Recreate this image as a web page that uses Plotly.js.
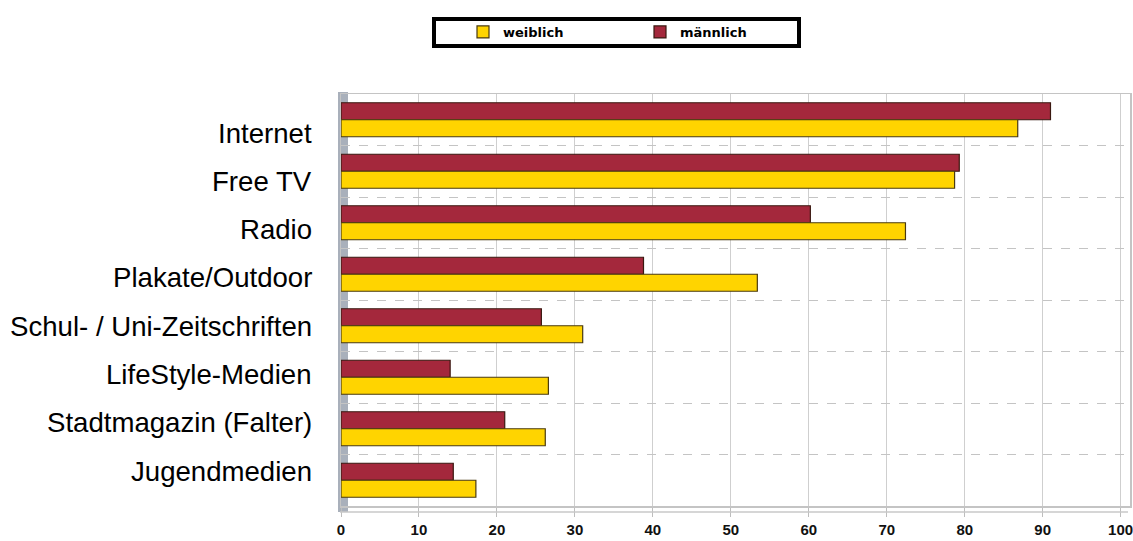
<!DOCTYPE html>
<html>
<head>
<meta charset="utf-8">
<script src="https://cdn.plot.ly/plotly-3.0.1.min.js"></script>
<style>
html,body{margin:0;padding:0;background:#fff;}
#chart{width:1133px;height:541px;}
</style>
</head>
<body>
<div id="chart"></div>
<script>
const categories = ["Internet", "Free TV", "Radio", "Plakate/Outdoor", "Schul- / Uni-Zeitschriften", "LifeStyle-Medien", "Stadtmagazin (Falter)", "Jugendmedien"];
const weiblich = [86.8, 78.7, 72.4, 53.4, 31.0, 26.6, 26.2, 17.3];
const maennlich = [91.0, 79.3, 60.2, 38.8, 25.7, 14.0, 21.0, 14.4];
const seriesNames = ["weiblich", "männlich"];
const xTicks = [0, 10, 20, 30, 40, 50, 60, 70, 80, 90, 100];

// layout geometry (pixels)
const W = 1133, H = 541;
const M = {l: 341, r: 3, t: 94, b: 35};
const plotW = W - M.l - M.r, plotH = H - M.t - M.b;
const px2paperX = px => (px - M.l) / plotW;
const px2paperY = py => (H - M.b - py) / plotH;

const traces = [
  {
    type: 'bar', orientation: 'h', name: seriesNames[1],
    y: categories, x: maennlich,
    marker: {color: '#a4283c', line: {color: '#3a1810', width: 1.2}}
  },
  {
    type: 'bar', orientation: 'h', name: seriesNames[0],
    y: categories, x: weiblich,
    marker: {color: '#ffd400', line: {color: '#4a3a10', width: 1.2}}
  }
];

// category labels (text placed beside rows)
const labelTop = 133, labelStep = 48.3;
const annotations = categories.map((c, i) => ({
  xref: 'paper', yref: 'paper',
  x: px2paperX(314), y: px2paperY(labelTop + labelStep * i),
  xanchor: 'right', yanchor: 'middle',
  text: c, showarrow: false,
  font: {family: 'Liberation Sans, Arial, sans-serif', size: 27.6, color: '#000'}
}));

const shapes = [
  // legend frame
  {type: 'rect', xref: 'paper', yref: 'paper',
   x0: px2paperX(434), x1: px2paperX(799), y0: px2paperY(46), y1: px2paperY(19),
   line: {color: '#000', width: 4}, fillcolor: '#fff', layer: 'below'},
  // left wall
  {type: 'rect', xref: 'paper', yref: 'paper',
   x0: px2paperX(338), x1: px2paperX(348), y0: px2paperY(512), y1: px2paperY(92),
   line: {width: 0}, fillcolor: '#a9b0bb', layer: 'below'},
  // floor front edge
  {type: 'line', xref: 'paper', yref: 'paper',
   x0: px2paperX(340), x1: px2paperX(1128), y0: px2paperY(512), y1: px2paperY(512),
   line: {color: '#c8c8c8', width: 1.5}}
];

const layout = {
  width: W, height: H,
  margin: M,
  paper_bgcolor: '#fff', plot_bgcolor: '#fff',
  barmode: 'group', bargap: 0.34, bargroupgap: 0,
  showlegend: true,
  legend: {
    orientation: 'h', traceorder: 'reversed',
    x: px2paperX(463), xanchor: 'left',
    y: px2paperY(32), yanchor: 'middle',
    bgcolor: 'rgba(0,0,0,0)', borderwidth: 0,
    entrywidth: 132, entrywidthmode: 'pixels',
    font: {family: 'DejaVu Sans, sans-serif', size: 13, color: '#000', weight: 'bold'}
  },
  xaxis: {
    range: [0, 101.2], tickvals: xTicks, ticktext: xTicks.map(String),
    showgrid: true, gridcolor: '#cfcfcf', gridwidth: 1,
    zeroline: false,
    showline: true, linecolor: '#c4c4c4', linewidth: 1.5, mirror: true,
    ticks: 'outside', ticklen: 9, tickcolor: '#bdbdbd',
    ticklabeloverflow: 'allow',
    tickfont: {family: 'Liberation Sans, Arial, sans-serif', size: 15, color: '#111', weight: 'bold'},
    fixedrange: true
  },
  yaxis: {
    type: 'category', categoryorder: 'array', categoryarray: categories,
    range: [categories.length - 0.5, -0.5],
    showticklabels: false, ticks: '',
    tickson: 'boundaries',
    showgrid: true, gridcolor: '#c4c4c4', griddash: 'dash', gridwidth: 1,
    showline: true, linecolor: '#c4c4c4', linewidth: 1.5, mirror: true,
    zeroline: false, fixedrange: true
  },
  annotations: annotations,
  shapes: shapes
};

Plotly.newPlot('chart', traces, layout, {displayModeBar: false, staticPlot: true});
</script>
</body>
</html>
